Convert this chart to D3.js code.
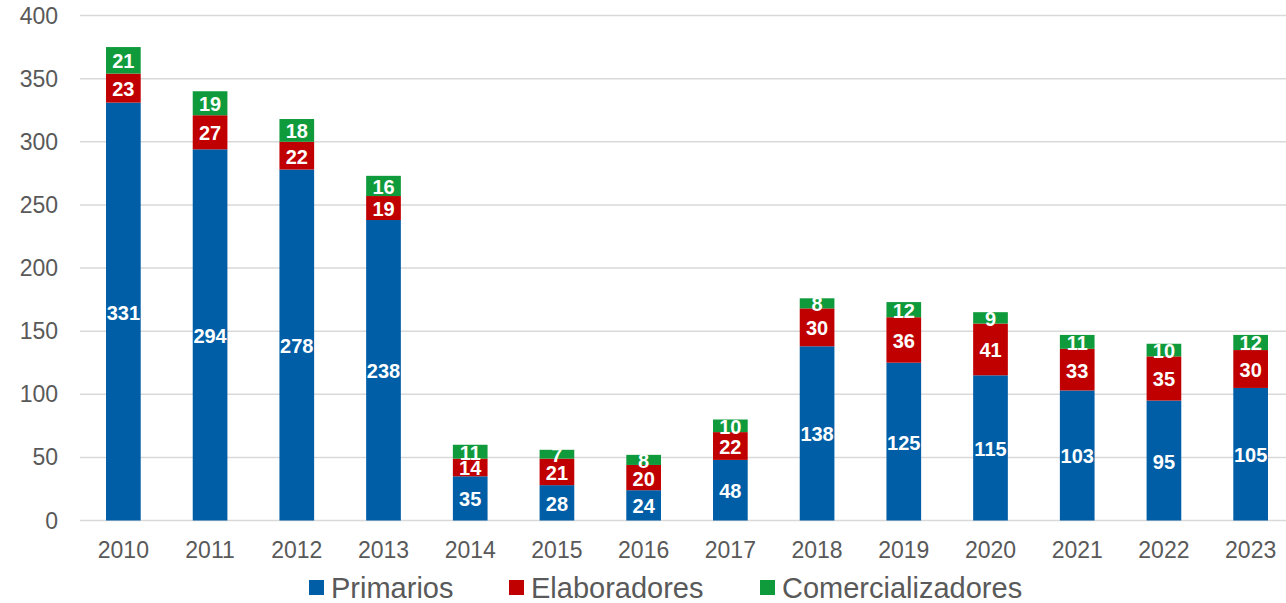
<!DOCTYPE html>
<html>
<head>
<meta charset="utf-8">
<script src="https://cdnjs.cloudflare.com/ajax/libs/d3/7.8.5/d3.min.js"></script>
<title>Primarios, Elaboradores, Comercializadores</title>
<style>
  body{ margin: 0; background-color: #fff; overflow: hidden; }
  text{ font-family: "Liberation Sans", Arial, sans-serif; }
</style>
</head>
<body>
<script>
var years = ["2010","2011","2012","2013","2014","2015","2016","2017","2018","2019","2020","2021","2022","2023"],
    primarios = [331, 294, 278, 238, 35, 28, 24, 48, 138, 125, 115, 103, 95, 105],
    elaboradores = [23, 27, 22, 19, 14, 21, 20, 22, 30, 36, 41, 33, 35, 30],
    comercializadores = [21, 19, 18, 16, 11, 7, 8, 10, 8, 12, 9, 11, 10, 12],
    yTicks = [0, 50, 100, 150, 200, 250, 300, 350, 400];

var seriesNames = ["Primarios", "Elaboradores", "Comercializadores"],
    colors = ["#005ea6", "#c00000", "#0f9a3c"];

var w = 1286, h = 603;

var svg = d3.select("body").append("svg")
    .attr("width", w)
    .attr("height", h);

var x = d3.scaleBand()
    .domain(years)
    .range([80, 1294])
    .paddingInner(0.6)
    .paddingOuter(0.3);

var y = d3.scaleLinear()
    .domain([0, 400])
    .range([520.5, 15.5]);

// gridlines
svg.selectAll("line.grid")
  .data(yTicks)
  .enter().append("line")
    .attr("class", "grid")
    .attr("x1", 80)
    .attr("x2", w)
    .attr("y1", function(d){ return y(d); })
    .attr("y2", function(d){ return y(d); })
    .attr("stroke", "#d9d9d9")
    .attr("stroke-width", 1.5);

// y tick labels
svg.selectAll("text.ytick")
  .data(yTicks)
  .enter().append("text")
    .attr("class", "ytick")
    .attr("x", 58)
    .attr("y", function(d){ return y(d); })
    .attr("text-anchor", "end")
    .attr("dominant-baseline", "central")
    .attr("font-size", 23)
    .attr("fill", "#595959")
    .text(function(d){ return d; });

// x tick labels
svg.selectAll("text.xtick")
  .data(years)
  .enter().append("text")
    .attr("class", "xtick")
    .attr("x", function(d){ return x(d) + x.bandwidth()/2; })
    .attr("y", 550)
    .attr("text-anchor", "middle")
    .attr("dominant-baseline", "central")
    .attr("font-size", 23)
    .attr("fill", "#595959")
    .text(function(d){ return d; });

var table = years.map(function(yr, i){
  return { year: yr, Primarios: primarios[i], Elaboradores: elaboradores[i], Comercializadores: comercializadores[i] };
});

var stacked = d3.stack().keys(seriesNames)(table);

var groups = svg.selectAll("g.series")
  .data(stacked)
  .enter().append("g")
    .attr("class", "series")
    .attr("fill", function(d, i){ return colors[i]; });

groups.selectAll("rect")
  .data(function(d){ return d; })
  .enter().append("rect")
    .attr("x", function(d){ return x(d.data.year); })
    .attr("y", function(d){ return y(d[1]); })
    .attr("width", x.bandwidth())
    .attr("height", function(d){ return y(d[0]) - y(d[1]); });

groups.selectAll("text")
  .data(function(d){ return d; })
  .enter().append("text")
    .attr("x", function(d){ return x(d.data.year) + x.bandwidth()/2; })
    .attr("y", function(d){ return (y(d[0]) + y(d[1]))/2 + 1; })
    .attr("text-anchor", "middle")
    .attr("dominant-baseline", "central")
    .attr("font-size", 20)
    .attr("font-weight", "bold")
    .attr("fill", "#fff")
    .text(function(d){ return d[1] - d[0]; });

// legend
var legendX = [309, 509, 760];
var legend = svg.selectAll("g.legend")
  .data(seriesNames)
  .enter().append("g")
    .attr("class", "legend")
    .attr("transform", function(d, i){ return "translate(" + legendX[i] + ",580)"; });

legend.append("rect")
    .attr("width", 15)
    .attr("height", 15)
    .attr("fill", function(d, i){ return colors[i]; });

legend.append("text")
    .attr("x", 22)
    .attr("y", 8)
    .attr("dominant-baseline", "central")
    .attr("font-size", 29)
    .attr("fill", "#595959")
    .text(function(d){ return d; });
</script>
</body>
</html>
